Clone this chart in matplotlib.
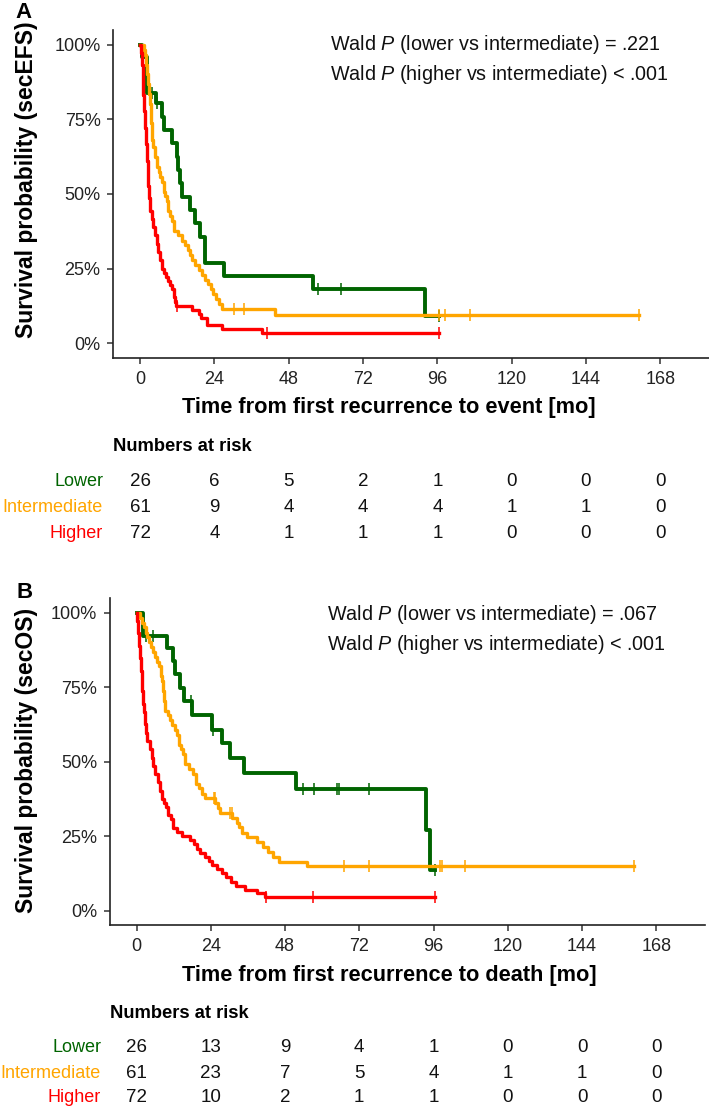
import numpy as np
import matplotlib.pyplot as plt
from matplotlib.transforms import blended_transform_factory

plt.rcParams['font.family'] = ['Liberation Sans', 'DejaVu Sans']
plt.rcParams['mathtext.fontset'] = 'custom'
plt.rcParams['mathtext.rm'] = 'Liberation Sans'
plt.rcParams['mathtext.it'] = 'Liberation Sans:italic'

groups = ['Lower', 'Intermediate', 'Higher']
colors = ['#006400', '#FFA500', '#FF0000']
risk_times = [0, 24, 48, 72, 96, 120, 144, 168]

# Panel A - secEFS, step knots (months, survival %) and censor times
efs_lower_t = [0, 0.5, 2.2, 5.2, 7.0, 7.6, 10.2, 11.8, 12.4, 12.9, 13.5, 16.2, 17.8, 19.4, 21.0, 27.0, 56.0, 92.0]
efs_lower_s = [100, 96, 84, 80.4, 75.9, 71.5, 67, 62.5, 58, 53.6, 49.1, 44.6, 40.2, 35.7, 26.8, 22.5, 18.0, 9.2]
efs_lower_c = [3.8, 5.3, 57.6, 64.8, 96.5]

efs_inter_t = [0, 1.3, 1.7, 2.0, 2.3, 2.6, 2.9, 3.2, 3.4, 3.6, 3.8, 4.3, 4.9, 5.5, 6.0, 6.5, 7.1, 7.6, 8.1, 8.6,
               9.1, 9.7, 10.3, 10.8, 12.4, 13.5, 14.5, 15.5, 16.2, 16.8, 17.8, 19.0, 20.0, 21.0, 22.0, 22.8,
               23.5, 24.5, 25.6, 26.4, 43.6]
efs_inter_s = [100, 98.4, 96.7, 93.4, 90.2, 86.9, 83.6, 80.3, 77, 73.8, 68, 65.6, 62.3, 59, 57.4, 55.7, 54.1,
               50.8, 49.2, 47.5, 44.3, 42.6, 41, 37.7, 36.1, 34.4, 32.8, 31.1, 29.5, 27.9, 26.2, 24.6, 23,
               21.3, 19.7, 18, 16.4, 14.8, 13.1, 11.5, 9.3]
efs_inter_c = [30.2, 33.4, 96.7, 98.5, 106.4, 161.0]

efs_high_t = [0, 0.4, 0.7, 0.9, 1.1, 1.3, 1.5, 1.8, 2.1, 2.4, 2.7, 3.0, 3.3, 3.7, 4.2, 4.8, 5.3, 5.9, 6.5,
              7.1, 7.8, 8.3, 8.9, 9.5, 10.2, 10.8, 11.2, 11.6, 16.9, 18.9, 19.6, 21.5, 26.4, 39.5]
efs_high_s = [100, 97.2, 93.1, 88.9, 83.3, 77.8, 72.2, 66.7, 61.1, 56.9, 52.8, 48.6, 44.4, 41.7, 38.9, 36.1,
              33.3, 30.6, 27.8, 25, 23.6, 22.2, 20.8, 19.4, 18.1, 15.3, 13.9, 12.5, 11.1, 9.7, 8.3, 6.2,
              4.6, 3.3]
efs_high_c = [11.9, 41.0, 96.6]

# Panel B - secOS
os_lower_t = [0, 2.2, 9.8, 11.7, 12.5, 14.1, 15.2, 17.9, 24.4, 27.6, 30.3, 34.6, 51.6, 93.4, 94.8]
os_lower_s = [100, 92.3, 88.3, 83.8, 79.3, 74.8, 70.3, 65.8, 60.8, 56.3, 51.2, 46.2, 40.8, 27.1, 13.6]
os_lower_c = [2.9, 5.4, 17.6, 24.7, 53.8, 57.5, 64.8, 65.3, 75.0, 96.6]

os_inter_t = [0, 1.1, 1.8, 2.5, 3.0, 3.5, 4.0, 4.6, 5.2, 5.8, 6.6, 7.2, 7.8, 8.3, 8.6, 8.9, 9.3, 10.0, 10.9,
              11.6, 12.4, 13.1, 13.8, 14.3, 15.0, 15.7, 17.0, 18.4, 19.2, 20.1, 21.2, 22.2, 25.4, 26.2, 27.0,
              31.0, 32.4, 33.2, 34.0, 35.6, 39.0, 41.0, 42.5, 44.0, 46.0, 55.0]
os_inter_s = [100, 98.4, 96.7, 95.1, 93.4, 91.8, 90.2, 88.5, 86.9, 85.2, 83.6, 82, 78.7, 77, 73.8, 70.5, 67.2,
              65.6, 63.9, 62.3, 60.7, 59, 55.7, 54.1, 52.5, 49.2, 47.5, 45.9, 42.6, 41, 39.3, 37.7, 36.1,
              34.4, 32.8, 31.1, 29.5, 27.9, 26.2, 24.6, 22.9, 21.3, 19.7, 18, 16.4, 14.8]
os_inter_c = [24.9, 25.3, 30.3, 30.8, 67.0, 75.0, 98.2, 98.6, 106.3, 160.8]

os_high_t = [0, 0.3, 0.5, 0.7, 1.0, 1.3, 1.6, 1.9, 2.1, 2.4, 2.8, 3.1, 3.4, 4.2, 4.9, 5.4, 6.0, 6.8, 7.6, 8.2,
             8.9, 9.6, 10.3, 11.0, 11.9, 13.0, 14.6, 17.3, 18.5, 19.5, 20.5, 22.0, 23.5, 24.5, 26.0, 27.5,
             29.0, 30.5, 32.0, 35.0, 39.0, 41.5]
os_high_s = [100, 97.2, 93.1, 88.9, 84.7, 80.6, 77.8, 73.6, 69.4, 66.7, 62.5, 59.7, 56.9, 54.2, 51.4, 48.6,
             45.8, 43.1, 40.3, 37.5, 36.1, 34.7, 32, 30.6, 27.8, 26.4, 25, 23.6, 22.2, 20.8, 19.4, 18.1,
             16.7, 15.3, 13.9, 12.5, 11.1, 9.7, 8.3, 6.9, 5.8, 4.6]
os_high_c = [42.0, 57.0, 96.4]

efs_risk = [[26, 6, 5, 2, 1, 0, 0, 0], [61, 9, 4, 4, 4, 1, 1, 0], [72, 4, 1, 1, 1, 0, 0, 0]]
os_risk = [[26, 13, 9, 4, 1, 0, 0, 0], [61, 23, 7, 5, 4, 1, 1, 0], [72, 10, 2, 1, 1, 0, 0, 0]]

W, H = 709, 1109
fig = plt.figure(figsize=(W / 100, H / 100), dpi=100)


def box(l, t, r, b):
    return [l / W, 1 - b / H, (r - l) / W, (b - t) / H]


def ftext(x, y, s, **kw):
    fig.text(x / W, 1 - y / H, s, **kw)


def draw_curve(ax, t, s, cens, color, lw):
    t = np.asarray(t, float)
    s = np.asarray(s, float) / 100
    tt = np.append(t, max(cens[-1], t[-1]))
    ss = np.append(s, s[-1])
    ax.step(tt, ss, where='post', color=color, lw=lw)
    idx = np.searchsorted(t, cens, side='right') - 1
    ax.plot(cens, s[idx], ls='none', marker='|', ms=9, mew=1.1, color=color)


def style_axes(ax):
    ax.set_xlim(-8.75, 183.75)
    ax.set_ylim(-0.05, 1.05)
    ax.set_xticks(risk_times)
    ax.set_yticks([0, 0.25, 0.5, 0.75, 1.0])
    ax.set_yticklabels(['0%', '25%', '50%', '75%', '100%'])
    for side in ['top', 'right']:
        ax.spines[side].set_visible(False)
    for side in ['left', 'bottom']:
        ax.spines[side].set_linewidth(1.2)
        ax.spines[side].set_color('#222222')
    ax.tick_params(length=4, width=1.1, color='#333333', labelsize=13, labelcolor='#222222', pad=5)


panels = [
    dict(box=box(113, 30, 709, 358), letter='A', letter_xy=(15, 12),
         curves=[(efs_lower_t, efs_lower_s, efs_lower_c), (efs_inter_t, efs_inter_s, efs_inter_c),
                 (efs_high_t, efs_high_s, efs_high_c)],
         ylabel='Survival probability (secEFS)', ylabel_xy=(27, 180),
         xlabel='Time from first recurrence to event [mo]', xlabel_xy=(389, 408),
         wald=['Wald $\\mathit{P}$ (lower vs intermediate) = .221',
               'Wald $\\mathit{P}$ (higher vs intermediate) < .001'], wald_xy=(330, 45),
         risk=efs_risk, risk_title_y=446, rows_y=[482, 507, 533], label_x=103, title_x=113),
    dict(box=box(109.5, 598, 705, 925.4), letter='B', letter_xy=(17, 593),
         curves=[(os_lower_t, os_lower_s, os_lower_c), (os_inter_t, os_inter_s, os_inter_c),
                 (os_high_t, os_high_s, os_high_c)],
         ylabel='Survival probability (secOS)', ylabel_xy=(27, 760),
         xlabel='Time from first recurrence to death [mo]', xlabel_xy=(389, 975),
         wald=['Wald $\\mathit{P}$ (lower vs intermediate) = .067',
               'Wald $\\mathit{P}$ (higher vs intermediate) < .001'], wald_xy=(327, 615),
         risk=os_risk, risk_title_y=1013, rows_y=[1047, 1073, 1098], label_x=101, title_x=110),
]

for p in panels:
    ax = fig.add_axes(p['box'])
    for (t, s, c), col, lw in zip(p['curves'], colors, [2.8, 2.4, 2.4]):
        draw_curve(ax, t, s, c, col, lw)
    style_axes(ax)

    ftext(*p['letter_xy'], p['letter'], fontsize=16, fontweight='bold', ha='left', va='center')
    ftext(*p['ylabel_xy'], p['ylabel'], fontsize=16.5, fontweight='bold', rotation=90,
          ha='center', va='center')
    ftext(*p['xlabel_xy'], p['xlabel'], fontsize=15.7, fontweight='bold', ha='center', va='center')
    wx, wy = p['wald_xy']
    for i, line in enumerate(p['wald']):
        ftext(wx, wy + 30 * i, line, fontsize=14.2, ha='left', va='center', color='#111111')

    ftext(p['title_x'], p['risk_title_y'], 'Numbers at risk', fontsize=13.2, fontweight='bold',
          ha='left', va='center')
    trans = blended_transform_factory(ax.transData, fig.transFigure)
    for g, col, row, ry in zip(groups, colors, p['risk'], p['rows_y']):
        ftext(p['label_x'], ry, g, fontsize=13, color=col, ha='right', va='center')
        for tm, n in zip(risk_times, row):
            ax.text(tm, 1 - ry / H, str(n), transform=trans, fontsize=13.5, ha='center',
                    va='center', color='#111111', clip_on=False)

fig.savefig('out.png', dpi=100)
